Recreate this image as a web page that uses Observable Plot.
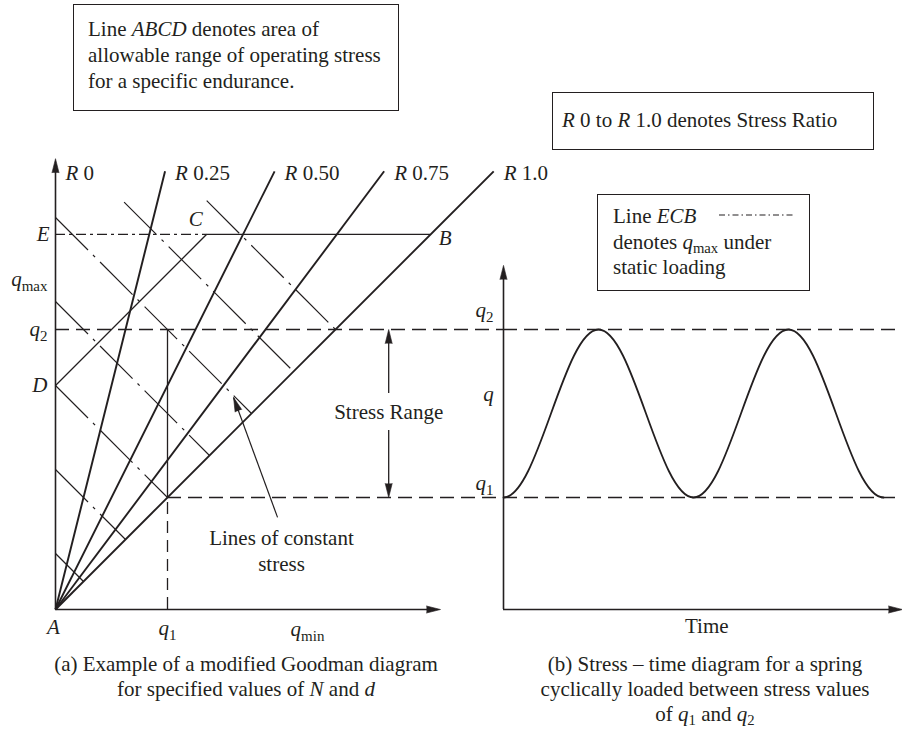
<!DOCTYPE html>
<html><head><meta charset="utf-8">
<script src="https://cdn.jsdelivr.net/npm/d3@7"></script>
<script src="https://cdn.jsdelivr.net/npm/@observablehq/plot@0.6"></script>
<style>
html,body{margin:0;padding:0;background:#fff;}
body{font-family:"Liberation Serif",serif;color:#231f20;}
#wrap{position:relative;width:902px;height:733px;overflow:hidden;}
.abs{position:absolute;}
.box{position:absolute;border:1.5px solid #231f20;box-sizing:border-box;font-size:21px;white-space:nowrap;}
sub{font-size:0.7em;vertical-align:-0.3em;line-height:0;}
.cap{position:absolute;text-align:center;font-size:21px;line-height:25px;white-space:nowrap;}
</style></head><body>
<div id="wrap">
  <div id="left" class="abs" style="left:0;top:0"></div>
  <div id="right" class="abs" style="left:503px;top:0"></div>
  <div class="box" style="left:73px;top:4px;width:326px;height:107px;padding:11px 0 0 14px;line-height:26px;">Line <i>ABCD</i> denotes area of<br>allowable range of operating stress<br>for a specific endurance.</div>
  <div class="box" style="left:552px;top:92px;width:322px;height:58px;padding:0 0 0 9px;line-height:55px;"><i>R</i> 0 to <i>R</i> 1.0 denotes Stress Ratio</div>
  <div class="box" style="left:597px;top:194px;width:213px;height:97px;padding:9px 0 0 15px;line-height:25.5px;">Line <i>ECB</i><br>denotes <i>q</i><sub>max</sub> under<br>static loading
    <svg style="position:absolute;left:121px;top:18px" width="76" height="4"><line x1="0" y1="2" x2="74" y2="2" stroke="#231f20" stroke-width="1.2" stroke-dasharray="6,3,1.5,3"/></svg>
  </div>
  <div class="cap" style="left:0;top:652px;width:492px;">(a) Example of a modified Goodman diagram<br>for specified values of <i>N</i> and <i>d</i></div>
  <div class="cap" style="left:505px;top:652px;width:400px;">(b) Stress – time diagram for a spring<br>cyclically loaded between stress values<br>of <i>q</i><sub>1</sub> and <i>q</i><sub>2</sub></div>
</div>
<script>
// ---------- data ----------
const stressRatios = [0, 0.25, 0.5, 0.75, 1.0];
const ratioLabels = ["<i>R</i> 0", "<i>R</i> 0.25", "<i>R</i> 0.50", "<i>R</i> 0.75", "<i>R</i> 1.0"];
const ratioLineTop = 15.65;          // q_max at which the R lines end
const q1 = 4, q2 = 10;               // stress levels
const qStatic = 13.4;                // E : q_max under static loading
const qD = 8;                        // D
const constantStress = [2, 5, 8, 11, 14, 17, 20];          // q_min + q_max
const constantStart = [2, 5, 8, 11, 14, 14.55, 14.6];      // q_max where each line begins
const axisMaxMin = 13.75, axisMaxMax = 16.1;               // left axes extents
const waveTime = [0, 0.5, 1, 1.5, 2];                      // cycles
const waveStress = [q1, q2, q1, q2, q1];
const timeMax = 2.1, rightAxisTop = 12.29;

// ---------- helpers ----------
const ink = "#231f20";
const FF = "Liberation Serif";
const style = {background: "transparent", overflow: "visible", fontFamily: "Liberation Serif, serif", fontSize: "21px", color: ink};

function flatSine(context) {       // cubic segments with horizontal tangents at each extreme point
  let x0, y0, i;
  const a = 1 - 2 / Math.PI;
  return {
    areaStart() {}, areaEnd() {},
    lineStart() { i = 0; },
    lineEnd() {},
    point(x, y) {
      x = +x; y = +y;
      if (i++ === 0) context.moveTo(x, y);
      else { const h = (x - x0) * a; context.bezierCurveTo(x0 + h, y0, x - h, y, x, y); }
      x0 = x; y0 = y;
    }
  };
}
function enrich(svg) {
  svg.querySelectorAll("text").forEach(t => {
    const s = t.textContent;
    if (!s.includes("<")) return;
    t.innerHTML = s.replace(/<i>(.*?)<\/i>/g, '<tspan font-style="italic">$1</tspan>')
                   .replace(/<sub>(.*?)<\/sub>/g, '<tspan font-size="15" dy="5">$1</tspan>');
  });
  return svg;
}
const head = {x: "x", y: "y", rotate: "a", shape: "spike", anchor: "end", length: 14, r: 3.5, fill: ink, stroke: ink, strokeWidth: 0.6};
const T = (o) => Object.assign({fill: ink, fontSize: 21, fontFamily: FF}, o);

// ---------- left panel: modified Goodman diagram ----------
const Cx = qStatic - qD;
const rLines = stressRatios.filter(r => r > 0);
const rLab = stressRatios.map((r, i) => ({r, label: ratioLabels[i]}));
const csLines = constantStress.map((k, i) => ({k, y0: constantStart[i]}));
const rangeX = 11.9;
const cArrow = {x1: 7.93, y1: 3.29, x2: 6.36, y2: 7.57};
const cRot = Math.atan2(cArrow.x2 - cArrow.x1, cArrow.y2 - cArrow.y1) * 180 / Math.PI;

const left = Plot.plot({
  width: 503, height: 733, marginLeft: 55, marginRight: 0, marginTop: 0, marginBottom: 124,
  x: {domain: [0, 16], axis: null}, y: {domain: [0, 21.75], axis: null},
  style,
  marks: [
    Plot.ruleY([q2], {x1: 0, x2: 16, stroke: ink, strokeWidth: 1.5, strokeDasharray: "14,7"}),
    Plot.ruleY([q1], {x1: q1, x2: 16, stroke: ink, strokeWidth: 1.5, strokeDasharray: "14,7"}),
    Plot.ruleX([q1], {y1: 0, y2: q1, stroke: ink, strokeWidth: 1.3, strokeDasharray: "12,7"}),
    Plot.ruleX([q1], {y1: q1, y2: q2, stroke: ink, strokeWidth: 1.3}),
    Plot.link(csLines, {x1: d => d.k - d.y0, y1: d => d.y0, x2: d => d.k / 2, y2: d => d.k / 2, stroke: ink, strokeWidth: 1.2, strokeDasharray: "46,7,3,7"}),
    Plot.ruleY([qStatic], {x1: 0, x2: Cx, stroke: ink, strokeWidth: 1.2, strokeDasharray: "10,4,3,4"}),
    Plot.ruleY([qStatic], {x1: Cx, x2: qStatic, stroke: ink, strokeWidth: 1.3}),
    Plot.link([qD], {x1: 0, y1: d => d, x2: Cx, y2: qStatic, stroke: ink, strokeWidth: 1.3}),
    Plot.link(rLines, {x1: 0, y1: 0, x2: r => r * ratioLineTop, y2: ratioLineTop, stroke: ink, strokeWidth: 1.9}),
    // axes
    Plot.ruleX([0], {y1: 0, y2: axisMaxMax - 0.3, stroke: ink, strokeWidth: 1.6}),
    Plot.ruleY([0], {x1: 0, x2: axisMaxMin - 0.3, stroke: ink, strokeWidth: 1.6}),
    // stress range arrows
    Plot.ruleX([rangeX], {y1: 7.71, y2: q2 - 0.3, stroke: ink, strokeWidth: 1.3}),
    Plot.ruleX([rangeX], {y1: q1 + 0.3, y2: 6.39, stroke: ink, strokeWidth: 1.3}),
    Plot.link([cArrow], {x1: "x1", y1: "y1", x2: "x2", y2: "y2", stroke: ink, strokeWidth: 1.2}),
    Plot.vector([
      {x: 0, y: axisMaxMax, a: 0}, {x: axisMaxMin, y: 0, a: 90},
      {x: rangeX, y: q2, a: 0}, {x: rangeX, y: q1, a: 180},
      {x: cArrow.x2, y: cArrow.y2, a: cRot}
    ], head),
    // labels
    Plot.text(rLab, T({x: d => d.r * ratioLineTop, y: ratioLineTop, text: "label", textAnchor: "start", dx: 10, dy: 2})),
    Plot.text(["<i>E</i>"], T({x: 0, y: qStatic, text: d => d, textAnchor: "end", dx: -6})),
    Plot.text(["<i>q</i><sub>max</sub>"], T({x: 0, y: 11.8, text: d => d, textAnchor: "end", dx: -8})),
    Plot.text(["<i>q</i><sub>2</sub>"], T({x: 0, y: q2, text: d => d, textAnchor: "end", dx: -8})),
    Plot.text(["<i>D</i>"], T({x: 0, y: qD, text: d => d, textAnchor: "end", dx: -8})),
    Plot.text(["<i>C</i>"], T({x: Cx, y: qStatic, text: d => d, dx: -11, dy: -15})),
    Plot.text(["<i>B</i>"], T({x: qStatic, y: qStatic, text: d => d, textAnchor: "start", dx: 8, dy: 4})),
    Plot.text(["<i>A</i>"], T({x: 0, y: 0, text: d => d, dx: -2, dy: 18})),
    Plot.text(["<i>q</i><sub>1</sub>"], T({x: q1, y: 0, text: d => d, dy: 19})),
    Plot.text(["<i>q</i><sub>min</sub>"], T({x: 9, y: 0, text: d => d, dy: 20})),
    Plot.text(["Stress Range"], T({x: rangeX, y: 7.05, text: d => d})),
    Plot.text(["Lines of constant\nstress"], T({x: 8.07, y: 2.13, text: d => d, lineHeight: 1.2}))
  ]
});
document.getElementById("left").appendChild(enrich(left));

// ---------- right panel: stress-time diagram ----------
const wave = waveTime.map((t, i) => ({t, q: waveStress[i]}));
const right = Plot.plot({
  width: 399, height: 733, marginLeft: 0, marginRight: 0, marginTop: 0, marginBottom: 124,
  x: {domain: [0, timeMax], axis: null}, y: {domain: [0, 21.75], axis: null},
  style,
  marks: [
    Plot.ruleY([q1, q2], {x1: 0, x2: timeMax, stroke: ink, strokeWidth: 1.5, strokeDasharray: "14,7"}),
    Plot.line(wave, {x: "t", y: "q", curve: flatSine, stroke: ink, strokeWidth: 1.8}),
    Plot.ruleX([0], {y1: 0, y2: rightAxisTop - 0.3, stroke: ink, strokeWidth: 1.6}),
    Plot.ruleY([0], {x1: 0, x2: timeMax - 0.04, stroke: ink, strokeWidth: 1.6}),
    Plot.vector([{x: 0, y: rightAxisTop, a: 0}, {x: timeMax, y: 0, a: 90}], head),
    Plot.text(["<i>q</i><sub>2</sub>"], T({x: 0, y: q2, text: d => d, textAnchor: "end", dx: -10, dy: -19})),
    Plot.text(["<i>q</i>"], T({x: 0, y: 7.7, text: d => d, dx: -15})),
    Plot.text(["<i>q</i><sub>1</sub>"], T({x: 0, y: q1, text: d => d, textAnchor: "end", dx: -10, dy: -14})),
    Plot.text(["Time"], T({x: 1.07, y: 0, text: d => d, dy: 17}))
  ]
});
document.getElementById("right").appendChild(enrich(right));
</script>
</body></html>
